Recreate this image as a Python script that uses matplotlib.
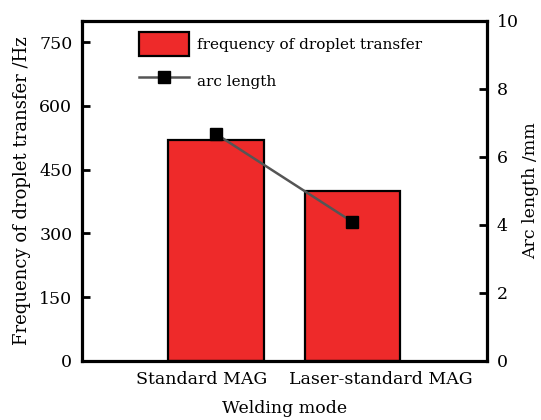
import matplotlib.pyplot as plt
import matplotlib.transforms as mtransforms
import numpy as np
from matplotlib.patches import Patch
from matplotlib.lines import Line2D

modes = ['Standard MAG', 'Laser-standard MAG']
frequency = [520, 400]
arc_length = [6.68, 4.09]

plt.rcParams['font.family'] = 'DejaVu Serif'
plt.rcParams['font.size'] = 12.5

fig = plt.figure(figsize=(5.41, 4.2), dpi=100)
ax = fig.add_axes([0.1516, 0.1405, 0.7486, 0.8095])
x = np.arange(len(modes))

ax.bar(x, frequency, width=0.70, color='#ee2a2a', edgecolor='black', linewidth=1.6)
ax.set_xlim(-0.98, 1.985)
ax.set_ylim(0, 800)
ax.set_yticks([0, 150, 300, 450, 600, 750])
ax.set_xticks(x)
ax.set_xticklabels(modes)
ax.tick_params(axis='x', length=0, pad=7)
ax.tick_params(axis='y', direction='in', length=6, width=2, pad=7)
ax.set_xlabel('Welding mode', fontsize=12.5, labelpad=8.8)
ax.set_ylabel('Frequency of droplet transfer /Hz', fontsize=13, labelpad=6)
for s in ax.spines.values():
    s.set_linewidth(2.3)

# shift the two category labels apart as in the original
shifts = [-0.14, 0.28]
for lab, dx in zip(ax.get_xticklabels(), shifts):
    lab.set_transform(lab.get_transform() + mtransforms.ScaledTranslation(dx, 0, fig.dpi_scale_trans))

ax2 = ax.twinx()
ax2.plot(x, arc_length, color='#555555', linewidth=1.8, marker='s', markersize=8.5,
         markerfacecolor='black', markeredgecolor='black')
ax2.set_ylim(0, 10)
ax2.set_yticks([0, 2, 4, 6, 8, 10])
ax2.tick_params(axis='y', direction='in', length=6, width=2, pad=7)
ax2.set_ylabel('Arc length /mm', fontsize=12.5, labelpad=2.5)

handles = [Patch(facecolor='#ee2a2a', edgecolor='black', linewidth=1.6),
           Line2D([], [], color='#555555', linewidth=1.8, marker='s', markersize=8.5,
                  markerfacecolor='black', markeredgecolor='black')]
ax.legend(handles, ['frequency of droplet transfer', 'arc length'], loc='upper left',
          bbox_to_anchor=(0.141, 0.968), frameon=False, borderpad=0, borderaxespad=0,
          handlelength=3.27, handleheight=2.04, handletextpad=0.52,
          labelspacing=0.85, fontsize=11)

plt.savefig('out.png', dpi=100)
